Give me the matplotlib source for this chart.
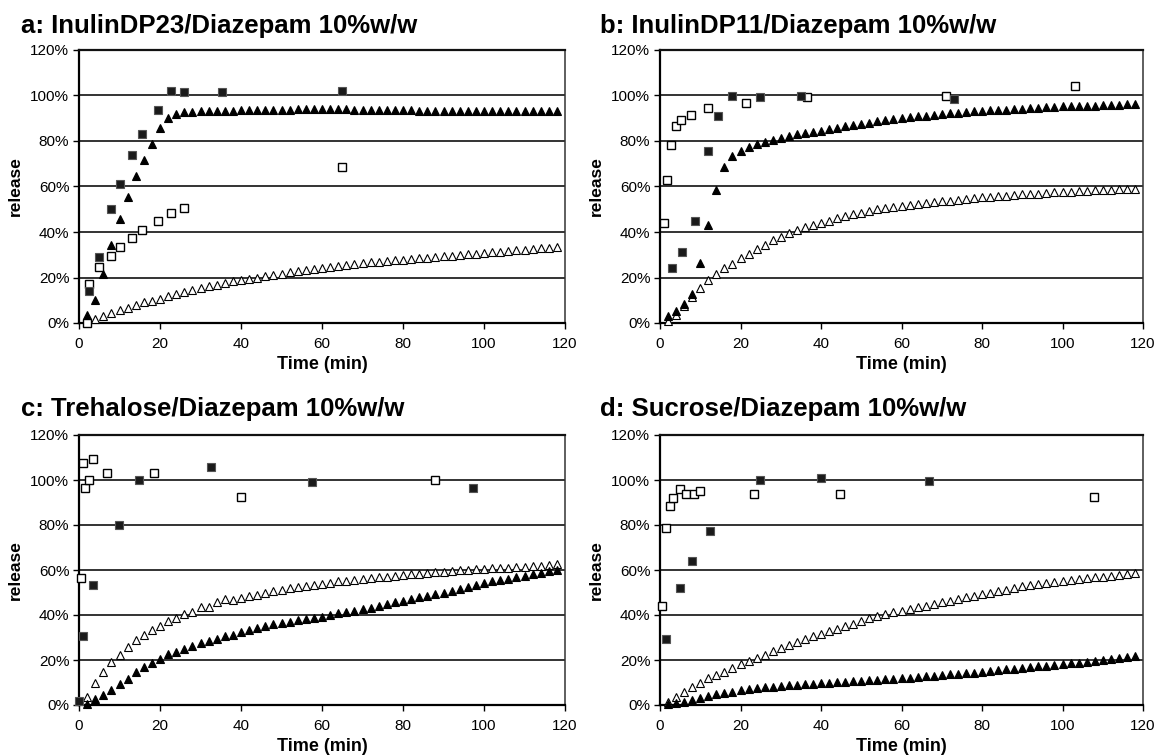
import matplotlib
matplotlib.use("Agg")
import matplotlib.pyplot as plt
from matplotlib.ticker import FuncFormatter

plt.rcParams['font.family'] = ['Liberation Sans', 'DejaVu Sans']

# ---------------- data ----------------
T_TRI = [2, 4, 6, 8, 10, 12, 14, 16, 18, 20,
         22, 24, 26, 28, 30, 32, 34, 36, 38, 40,
         42, 44, 46, 48, 50, 52, 54, 56, 58, 60,
         62, 64, 66, 68, 70, 72, 74, 76, 78, 80,
         82, 84, 86, 88, 90, 92, 94, 96, 98, 100,
         102, 104, 106, 108, 110, 112, 114, 116, 118]

TITLES = ["a: InulinDP23/Diazepam 10%w/w", "b: InulinDP11/Diazepam 10%w/w",
          "c: Trehalose/Diazepam 10%w/w", "d: Sucrose/Diazepam 10%w/w"]

# panel a
A_FSQ_T = [2.5, 5.0, 7.9, 10.0, 13.1, 15.5, 19.5, 22.6, 26.0, 35.3, 65.0]
A_FSQ_V = [14.2, 28.8, 50.0, 61.0, 74.0, 83.0, 93.7, 102.0, 101.5, 101.5, 101.8]
A_OSQ_T = [2.0, 2.5, 5.0, 8.0, 10.0, 13.0, 15.5, 19.5, 22.6, 26.0, 65.0]
A_OSQ_V = [0.0, 17.3, 24.5, 29.3, 33.4, 37.5, 41.0, 45.0, 48.2, 50.4, 68.4]
A_FTR = [3.7, 10.2, 21.7, 34.4, 45.8, 55.6, 64.4, 71.7, 78.8, 85.5,
         89.9, 92.0, 92.8, 92.9, 93.2, 93.3, 93.3, 93.4, 93.4, 93.5,
         93.6, 93.6, 93.7, 93.7, 93.8, 93.8, 93.9, 93.9, 94.0, 94.0,
         94.0, 93.9, 93.9, 93.8, 93.7, 93.7, 93.6, 93.6, 93.5, 93.5,
         93.5, 93.4, 93.4, 93.4, 93.4, 93.3, 93.3, 93.3, 93.3, 93.3,
         93.3, 93.3, 93.2, 93.2, 93.2, 93.2, 93.2, 93.2, 93.2]
A_OTR = [0.4, 1.8, 2.9, 4.4, 5.6, 6.6, 7.9, 9.1, 9.8, 10.7,
         12.0, 12.9, 13.8, 14.5, 15.5, 16.1, 16.8, 17.6, 18.3, 19.0,
         19.5, 20.0, 20.6, 21.2, 21.7, 22.3, 22.8, 23.4, 23.8, 24.2,
         24.6, 24.9, 25.4, 25.9, 26.4, 26.7, 27.0, 27.3, 27.6, 27.8,
         28.1, 28.4, 28.7, 29.0, 29.3, 29.6, 29.9, 30.2, 30.5, 30.7,
         31.0, 31.3, 31.6, 31.9, 32.2, 32.5, 32.8, 33.1, 33.4]

# panel b
B_FSQ_T = [2.9, 5.4, 8.6, 11.9, 14.3, 17.8, 24.9, 35.0, 73.0]
B_FSQ_V = [24.2, 31.0, 45.0, 75.7, 91.2, 99.6, 99.3, 99.6, 98.4]
B_OSQ_T = [1.1, 1.8, 2.8, 3.9, 5.2, 7.7, 11.9, 21.4, 36.4, 71.0, 103.0]
B_OSQ_V = [43.9, 63.0, 78.3, 86.7, 89.3, 91.5, 94.7, 96.9, 99.4, 99.9, 104.2]
B_FTR = [2.9, 5.1, 8.5, 12.7, 26.4, 43.0, 58.6, 68.4, 73.2, 75.7,
         77.3, 78.8, 79.6, 80.5, 81.3, 82.0, 82.9, 83.5, 84.0, 84.6,
         85.2, 85.8, 86.5, 87.1, 87.6, 88.1, 88.7, 89.3, 89.6, 90.0,
         90.4, 90.8, 91.2, 91.6, 92.0, 92.3, 92.5, 92.8, 93.0, 93.3,
         93.5, 93.6, 93.8, 94.0, 94.1, 94.3, 94.5, 94.8, 95.0, 95.2,
         95.3, 95.4, 95.5, 95.6, 95.8, 95.9, 96.0, 96.1, 96.2]
B_OTR = [0.7, 3.5, 7.5, 11.5, 15.5, 19.0, 21.5, 24.0, 26.0, 28.5,
         30.5, 32.5, 34.5, 36.5, 38.0, 39.5, 41.0, 42.0, 43.0, 44.0,
         45.0, 46.0, 46.9, 47.8, 48.5, 49.3, 49.9, 50.5, 51.0, 51.5,
         52.0, 52.4, 52.8, 53.2, 53.5, 53.8, 54.2, 54.5, 54.9, 55.2,
         55.5, 55.7, 56.0, 56.2, 56.5, 56.7, 56.9, 57.1, 57.4, 57.6,
         57.8, 57.9, 58.1, 58.3, 58.5, 58.6, 58.8, 58.9, 59.0]

# panel c
C_FSQ_T = [0.0, 1.0, 3.5, 9.9, 14.9, 32.5, 57.5, 97.4]
C_FSQ_V = [2.0, 30.7, 53.4, 80.2, 99.8, 105.7, 99.0, 96.6]
C_OSQ_T = [0.5, 1.0, 1.6, 2.4, 3.5, 6.9, 18.4, 39.9, 88.0]
C_OSQ_V = [56.4, 107.6, 96.3, 99.8, 109.2, 103.2, 103.2, 92.5, 100.0]
C_FTR = [0.3, 2.5, 4.3, 6.5, 9.2, 11.7, 14.7, 16.9, 18.8, 20.6,
         22.5, 23.7, 24.9, 26.4, 27.4, 28.6, 29.3, 30.5, 31.0, 32.5,
         33.5, 34.4, 35.2, 35.9, 36.5, 37.0, 37.6, 38.1, 38.7, 39.2,
         40.0, 40.7, 41.3, 41.9, 42.5, 43.3, 44.1, 44.8, 45.6, 46.4,
         47.1, 47.8, 48.6, 49.3, 50.0, 50.8, 51.7, 52.5, 53.4, 54.2,
         54.9, 55.5, 56.1, 56.8, 57.4, 58.1, 58.8, 59.4, 60.0]
C_OTR = [3.7, 10.0, 14.6, 19.0, 22.4, 26.0, 28.8, 31.0, 33.4, 35.1,
         37.3, 38.7, 40.3, 41.3, 43.5, 43.5, 45.7, 46.9, 46.6, 47.6,
         48.3, 49.0, 50.0, 50.8, 51.3, 52.0, 52.5, 53.0, 53.4, 53.9,
         54.4, 54.9, 55.2, 55.5, 55.9, 56.3, 56.7, 57.0, 57.4, 57.8,
         58.1, 58.4, 58.7, 59.0, 59.3, 59.5, 59.8, 60.0, 60.3, 60.5,
         60.7, 60.9, 61.1, 61.3, 61.5, 61.7, 61.9, 62.2, 62.5]

# panel d
D_FSQ_T = [1.6, 4.9, 8.0, 12.4, 24.8, 39.9, 66.8]
D_FSQ_V = [29.2, 52.0, 63.8, 77.3, 100.1, 100.9, 99.7]
D_OSQ_T = [0.6, 1.6, 2.4, 3.3, 4.9, 6.4, 8.4, 9.9, 23.4, 44.8, 107.9]
D_OSQ_V = [44.2, 78.5, 88.4, 91.8, 96.0, 93.8, 93.8, 95.0, 94.0, 93.8, 92.5]
D_FTR = [0.3, 0.7, 1.5, 2.2, 3.2, 4.0, 4.7, 5.4, 5.9, 6.5,
         7.0, 7.4, 7.8, 8.2, 8.5, 8.7, 8.9, 9.2, 9.4, 9.6,
         9.8, 10.1, 10.3, 10.6, 10.8, 11.0, 11.2, 11.4, 11.6, 11.8,
         12.1, 12.4, 12.7, 13.0, 13.3, 13.6, 13.9, 14.2, 14.4, 14.7,
         15.1, 15.4, 15.8, 16.2, 16.5, 16.8, 17.2, 17.5, 17.8, 18.1,
         18.5, 18.8, 19.2, 19.5, 19.9, 20.3, 20.7, 21.2, 21.6]
D_OTR = [1.2, 3.7, 5.9, 8.1, 9.9, 11.8, 13.3, 14.7, 16.5, 18.1,
         19.4, 20.9, 22.4, 23.9, 25.3, 26.8, 28.0, 29.2, 30.5, 31.7,
         32.8, 33.9, 35.0, 36.1, 37.3, 38.6, 39.5, 40.5, 41.3, 42.0,
         42.7, 43.4, 44.2, 45.0, 45.7, 46.4, 47.1, 47.9, 48.6, 49.3,
         50.0, 50.7, 51.3, 52.0, 52.7, 53.2, 53.7, 54.2, 54.7, 55.2,
         55.6, 56.0, 56.4, 56.8, 57.1, 57.5, 57.9, 58.2, 58.6]

PANELS = [
    (A_FSQ_T, A_FSQ_V, A_OSQ_T, A_OSQ_V, A_FTR, A_OTR),
    (B_FSQ_T, B_FSQ_V, B_OSQ_T, B_OSQ_V, B_FTR, B_OTR),
    (C_FSQ_T, C_FSQ_V, C_OSQ_T, C_OSQ_V, C_FTR, C_OTR),
    (D_FSQ_T, D_FSQ_V, D_OSQ_T, D_OSQ_V, D_FTR, D_OTR),
]

X_TICKS = [0, 20, 40, 60, 80, 100, 120]
Y_TICKS = [0, 20, 40, 60, 80, 100, 120]

# ---------------- layout ----------------
W, H = 1159, 756
fig = plt.figure(figsize=(W / 100, H / 100), dpi=100)
fig.patch.set_facecolor('white')

# pixel boxes: (left, top, right, bottom)
boxes = [(79, 50, 565, 323), (660, 50, 1143, 323),
         (79, 435, 565, 705), (660, 435, 1143, 705)]
title_pos = [(21, 33), (600, 33), (21, 416), (600, 416)]

for i, (box, pan) in enumerate(zip(boxes, PANELS)):
    l, t, r, b = box
    ax = fig.add_axes([l / W, (H - b) / H, (r - l) / W, (b - t) / H])
    fsq_t, fsq_v, osq_t, osq_v, ftr, otr = pan

    ax.set_xlim(0, 120)
    ax.set_ylim(0, 120)
    for yv in Y_TICKS[1:-1]:
        ax.axhline(yv, color='#333333', lw=1.4, zorder=1)

    ax.plot(T_TRI, otr, ls='none', marker='^', ms=5.2, mfc='white',
            mec='black', mew=0.8, zorder=3, clip_on=False)
    ax.plot(T_TRI, ftr, ls='none', marker='^', ms=5.6, mfc='black',
            mec='black', mew=0.8, zorder=4, clip_on=False)
    ax.plot(osq_t, osq_v, ls='none', marker='s', ms=5.8, mfc='white',
            mec='black', mew=1.0, zorder=5, clip_on=False)
    ax.plot(fsq_t, fsq_v, ls='none', marker='s', ms=5.8, mfc='#1a1a1a',
            mec='#555555', mew=0.8, zorder=6, clip_on=False)

    ax.set_xticks(X_TICKS)
    ax.set_yticks(Y_TICKS)
    ax.yaxis.set_major_formatter(FuncFormatter(lambda v, p: f"{int(round(v))}%"))
    ax.tick_params(axis='both', direction='out', length=4, width=1.0,
                   labelsize=11, colors='black')
    ax.tick_params(axis='x', pad=6)
    ax.tick_params(axis='y', pad=3)
    for s in ['left', 'bottom']:
        ax.spines[s].set_linewidth(1.6)
        ax.spines[s].set_color('black')
    ax.spines['top'].set_linewidth(1.6)
    ax.spines['top'].set_color('#111111')
    ax.spines['right'].set_linewidth(1.1)
    ax.spines['right'].set_color('#333333')

    ax.set_xlabel('Time (min)', fontsize=13, fontweight='bold', labelpad=4)
    ax.set_ylabel('release', fontsize=12.5, fontweight='bold', labelpad=5)

    tx, ty = title_pos[i]
    fig.text(tx / W, 1 - ty / H, TITLES[i], fontsize=18.5, fontweight='bold',
             ha='left', va='baseline')

fig.savefig('out.png', dpi=100, facecolor='white')
